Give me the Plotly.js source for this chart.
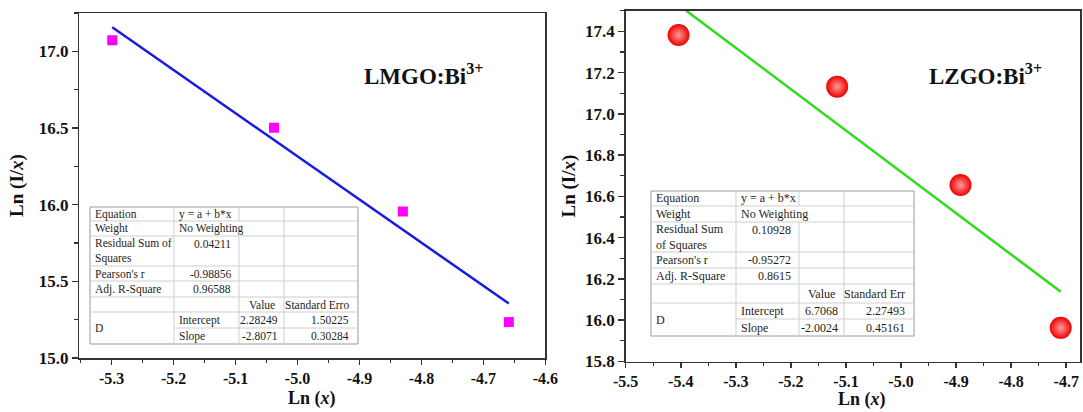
<!DOCTYPE html>
<html>
<head>
<meta charset="utf-8">
<script src="https://cdn.plot.ly/plotly-3.0.1.min.js"></script>
<style>html,body{margin:0;padding:0;background:#fff;}#chart{width:1083px;height:412px;}</style>
</head>
<body>
<div id="chart"></div>
<script>
// ---------- data ----------
const lmgoX = [-5.299, -5.038, -4.830, -4.659];
const lmgoY = [17.073, 16.502, 15.955, 15.234];
const lmgoFitX = [-5.299, -4.659];
const lmgoFitY = [17.157, 15.355];

const lzgoX = [-5.404, -5.116, -4.892, -4.710];
const lzgoY = [17.382, 17.132, 16.655, 15.963];
const lzgoFitX = [-5.404, -4.710];
const lzgoFitY = [17.528, 16.138];

const xTicksLeft = [-5.3, -5.2, -5.1, -5.0, -4.9, -4.8, -4.7, -4.6];
const yTicksLeft = [15.0, 15.5, 16.0, 16.5, 17.0];
const xTicksRight = [-5.5, -5.4, -5.3, -5.2, -5.1, -5.0, -4.9, -4.8, -4.7];
const yTicksRight = [15.8, 16.0, 16.2, 16.4, 16.6, 16.8, 17.0, 17.2, 17.4];

const lmgoStatLabels = ["Equation", "Weight", "Residual Sum of<br>Squares", "Pearson's r", "Adj. R-Square"];
const lmgoStatVals = ["y = a + b*x", "No Weighting", "0.04211", "-0.98856", "0.96588"];
const lmgoHeader = ["Value", "Standard Erro"];
const lmgoParamNames = ["Intercept", "Slope"];
const lmgoParamVals = ["2.28249", "-2.8071"];
const lmgoParamErrs = ["1.50225", "0.30284"];

const lzgoStatLabels = ["Equation", "Weight", "Residual Sum<br>of Squares", "Pearson's r", "Adj. R-Square"];
const lzgoStatVals = ["y = a + b*x", "No Weighting", "0.10928", "-0.95272", "0.8615"];
const lzgoHeader = ["Value", "Standard Err"];
const lzgoParamNames = ["Intercept", "Slope"];
const lzgoParamVals = ["6.7068", "-2.0024"];
const lzgoParamErrs = ["2.27493", "0.45161"];

// ---------- layout helpers ----------
const W = 1083, H = 412;
const px = p => p / W;
const py = p => 1 - p / H;
const SERIF = "Liberation Serif";

const shapes = [];
const annotations = [];

function hline(x0, x1, y, color) {
  shapes.push({type: 'line', xref: 'paper', yref: 'paper', x0: px(x0), x1: px(x1), y0: py(y), y1: py(y), line: {color: color, width: 1}, layer: 'above'});
}
function vline(x, y0, y1, color) {
  shapes.push({type: 'line', xref: 'paper', yref: 'paper', x0: px(x), x1: px(x), y0: py(y0), y1: py(y1), line: {color: color, width: 1}, layer: 'above'});
}
function txt(text, x, y, anchor, size) {
  annotations.push({xref: 'paper', yref: 'paper', x: px(x), y: py(y), text: text, showarrow: false,
    xanchor: anchor, yanchor: 'middle', align: 'left',
    font: {family: SERIF, size: size, color: '#1e1e1e'}});
}

function buildTable(cols, rows, fs, labels, vals, header, pnames, pvals, perrs) {
  const inner = '#cfcfcf', outer = '#9a9a9a';
  shapes.push({type: 'rect', xref: 'paper', yref: 'paper', x0: px(cols[0]), x1: px(cols[4]), y0: py(rows[0]), y1: py(rows[8]),
    fillcolor: '#ffffff', line: {color: outer, width: 1}, layer: 'above'});
  for (let r = 1; r < 8; r++) {
    hline(r === 7 ? cols[1] : cols[0], cols[4], rows[r], inner);
  }
  vline(cols[1], rows[0], rows[8], inner);
  vline(cols[2], rows[0], rows[1], inner);
  vline(cols[2], rows[2], rows[8], inner);
  vline(cols[3], rows[0], rows[8], inner);
  const pad = 4;
  for (let i = 0; i < 5; i++) {
    const cy = (rows[i] + rows[i + 1]) / 2;
    txt(labels[i], cols[0] + 3, cy, 'left', fs);
    if (i < 2) txt(vals[i], cols[1] + 3, cy, 'left', fs);
    else txt(vals[i], cols[2] - pad - 2, i === 2 ? rows[2] + 8 : cy, 'right', fs);
  }
  const hy = (rows[5] + rows[6]) / 2;
  txt(header[0], (cols[2] + cols[3]) / 2, hy, 'center', fs);
  txt(header[1], cols[4] - pad - 3, hy, 'right', fs);
  txt("D", cols[0] + 3, (rows[6] + rows[8]) / 2, 'left', fs);
  for (let k = 0; k < 2; k++) {
    const cy = (rows[6 + k] + rows[7 + k]) / 2;
    txt(pnames[k], cols[1] + 3, cy, 'left', fs);
    txt(pvals[k], cols[3] - pad, cy, 'right', fs);
    txt(perrs[k], cols[4] - pad - 3, cy, 'right', fs);
  }
}

buildTable([90, 174, 239, 284, 358], [207, 221, 236, 266, 281, 297, 312, 328, 344], 11.5,
  lmgoStatLabels, lmgoStatVals, lmgoHeader, lmgoParamNames, lmgoParamVals, lmgoParamErrs);
buildTable([651, 736, 799, 844, 914], [191, 206, 222, 252, 268, 284, 303, 319, 336], 12,
  lzgoStatLabels, lzgoStatVals, lzgoHeader, lzgoParamNames, lzgoParamVals, lzgoParamErrs);

annotations.push({xref: 'paper', yref: 'paper', x: px(423), y: py(74), text: "<b>LMGO:Bi<sup>3+</sup></b>", showarrow: false,
  xanchor: 'center', yanchor: 'middle', font: {family: SERIF, size: 23, color: '#111'}});
annotations.push({xref: 'paper', yref: 'paper', x: px(985), y: py(74), text: "<b>LZGO:Bi<sup>3+</sup></b>", showarrow: false,
  xanchor: 'center', yanchor: 'middle', font: {family: SERIF, size: 23, color: '#111'}});

// x-axis titles
annotations.push({xref: 'paper', yref: 'paper', x: px(312), y: py(411), text: "<b>Ln (<i>x</i>)</b>", showarrow: false,
  xanchor: 'center', yanchor: 'bottom', font: {family: SERIF, size: 18, color: '#111'}});
annotations.push({xref: 'paper', yref: 'paper', x: px(862), y: py(412), text: "<b>Ln (<i>x</i>)</b>", showarrow: false,
  xanchor: 'center', yanchor: 'bottom', font: {family: SERIF, size: 18, color: '#111'}});

// ---------- traces ----------
const traces = [
  {x: lmgoFitX, y: lmgoFitY, xaxis: 'x', yaxis: 'y', mode: 'lines', line: {color: '#1a1ae0', width: 2.5}, hoverinfo: 'skip'},
  {x: lmgoX, y: lmgoY, xaxis: 'x', yaxis: 'y', mode: 'markers', marker: {symbol: 'square', size: 10, color: '#ff00ff'}},
  {x: lzgoFitX, y: lzgoFitY, xaxis: 'x2', yaxis: 'y2', mode: 'lines', line: {color: '#2edc1e', width: 2.5}, hoverinfo: 'skip'},
  {x: lzgoX, y: lzgoY, xaxis: 'x2', yaxis: 'y2', mode: 'markers', marker: {symbol: 'circle', size: 22, color: '#ee0000',
    gradient: {type: 'radial', color: '#ff9a9a'}, line: {width: 0}}}
];

const tickFont = {family: SERIF, size: 17, color: '#111'};
const xTickFont = {family: SERIF, size: 16, color: '#111'};
const titleFont = {family: SERIF, size: 19, color: '#111'};
const bold = v => '<b>' + v.toFixed(1) + '</b>';
function axisBase(extra) {
  return Object.assign({
    showgrid: false, zeroline: false, showline: true, mirror: true,
    linecolor: '#333', linewidth: 1.5, ticks: 'outside', ticklen: 6, tickwidth: 1.5, tickcolor: '#333',
    tickfont: tickFont, automargin: false, fixedrange: true
  }, extra);
}

const layout = {
  width: W, height: H,
  margin: {l: 0, r: 0, t: 0, b: 0},
  paper_bgcolor: '#ffffff', plot_bgcolor: '#ffffff',
  showlegend: false,
  xaxis: axisBase({domain: [px(79.4), px(545.4)], range: [-5.352, -4.6], anchor: 'y', ticklen: 5, tickfont: xTickFont,
    tickmode: 'array', tickvals: xTicksLeft, ticktext: xTicksLeft.map(bold),
    minor: {tickmode: 'linear', tick0: -5.35, dtick: 0.05, ticks: 'outside', ticklen: 3, tickwidth: 1.2, tickcolor: '#333'}}),
  yaxis: axisBase({domain: [py(358), py(13)], range: [15.0, 17.25], anchor: 'x',
    tickmode: 'array', tickvals: yTicksLeft, ticktext: yTicksLeft.map(bold),
    minor: {tickmode: 'linear', tick0: 15.0, dtick: 0.25, ticks: 'outside', ticklen: 4, tickwidth: 1.2, tickcolor: '#333'},
    title: {text: "<b>Ln (I/<i>x</i>)</b>", font: titleFont, standoff: 10}}),
  xaxis2: axisBase({domain: [px(625.7), px(1080)], range: [-5.5, -4.675], anchor: 'y2', ticklen: 5, tickfont: xTickFont,
    tickmode: 'array', tickvals: xTicksRight, ticktext: xTicksRight.map(bold),
    minor: {tickmode: 'linear', tick0: -5.5, dtick: 0.05, ticks: 'outside', ticklen: 3, tickwidth: 1.2, tickcolor: '#333'}}),
  yaxis2: axisBase({domain: [py(361.5), py(10.7)], range: [15.8, 17.5], anchor: 'x2',
    tickmode: 'array', tickvals: yTicksRight, ticktext: yTicksRight.map(bold),
    minor: {tickmode: 'linear', tick0: 15.8, dtick: 0.1, ticks: 'outside', ticklen: 4, tickwidth: 1.2, tickcolor: '#333'},
    title: {text: "<b>Ln (I/<i>x</i>)</b>", font: titleFont, standoff: 4}}),
  shapes: shapes,
  annotations: annotations
};

Plotly.newPlot('chart', traces, layout, {displayModeBar: false, staticPlot: true});
</script>
</body>
</html>
